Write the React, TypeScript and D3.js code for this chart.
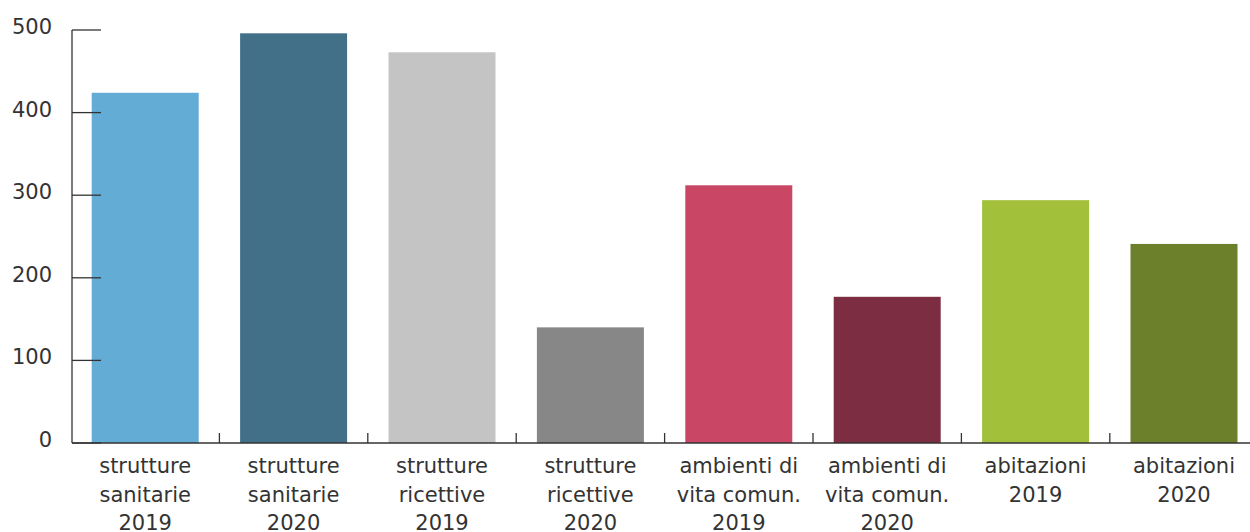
import { scaleBand, scaleLinear } from "d3";

const W = 1250;
const H = 532;
const M = { top: 30, left: 72, bottom: 89 };
const STEP = 148.4;

const categories = [
  ["strutture", "sanitarie", "2019"],
  ["strutture", "sanitarie", "2020"],
  ["strutture", "ricettive", "2019"],
  ["strutture", "ricettive", "2020"],
  ["ambienti di", "vita comun.", "2019"],
  ["ambienti di", "vita comun.", "2020"],
  ["abitazioni", "2019"],
  ["abitazioni", "2020"],
];
const values = [424, 496, 473, 140, 312, 177, 294, 241];
const colors = ["#63acd5", "#427089", "#c4c4c4", "#878787", "#c94664", "#7d2d42", "#a2c03a", "#6c7f2b"];
const yTicks = [0, 100, 200, 300, 400, 500];

const FONT = "'DejaVu Sans', sans-serif";
const INK = "#333333";

export default function App() {
  const keys = categories.map((_, i) => String(i));
  const x0 = M.left - 1;
  const x = scaleBand<string>()
    .domain(keys)
    .range([x0, x0 + STEP * keys.length])
    .paddingInner(0.279)
    .paddingOuter(0.1395);
  const y = scaleLinear().domain([0, 500]).range([H - M.bottom, M.top]);
  const base = y(0);

  return (
    <svg
      width={W}
      height={H}
      viewBox={`0 0 ${W} ${H}`}
      style={{ position: "absolute", left: 0, top: 0, background: "#fff" }}
    >
      {/* bars */}
      {values.map((v, i) => (
        <rect
          key={i}
          x={x(keys[i])}
          y={y(v)}
          width={x.bandwidth()}
          height={base - y(v)}
          fill={colors[i]}
        />
      ))}

      {/* y axis: spine + inward ticks */}
      <line x1={M.left} x2={M.left} y1={y(500)} y2={base} stroke={INK} strokeWidth={1.3} />
      {yTicks.map((t) => (
        <g key={t}>
          <line x1={M.left} x2={M.left + 29} y1={y(t)} y2={y(t)} stroke={INK} strokeWidth={1.3} />
          <text
            x={M.left - 20}
            y={y(t) + 4}
            textAnchor="end"
            fontFamily={FONT}
            fontSize={21}
            fill={INK}
          >
            {t}
          </text>
        </g>
      ))}

      {/* x axis: baseline + category boundary ticks */}
      <line x1={M.left} x2={W} y1={base} y2={base} stroke={INK} strokeWidth={1.3} />
      {keys.slice(1).map((k) => {
        const bx = x0 + STEP * Number(k);
        return <line key={k} x1={bx} x2={bx} y1={base - 10} y2={base} stroke={INK} strokeWidth={1.3} />;
      })}

      {/* category labels */}
      {categories.map((lines, i) => {
        const cx = (x(keys[i]) ?? 0) + x.bandwidth() / 2;
        return (
          <text key={i} textAnchor="middle" fontFamily={FONT} fontSize={21} fill={INK}>
            {lines.map((l, j) => (
              <tspan key={j} x={cx} y={base + 30 + j * 28.5}>
                {l}
              </tspan>
            ))}
          </text>
        );
      })}
    </svg>
  );
}
